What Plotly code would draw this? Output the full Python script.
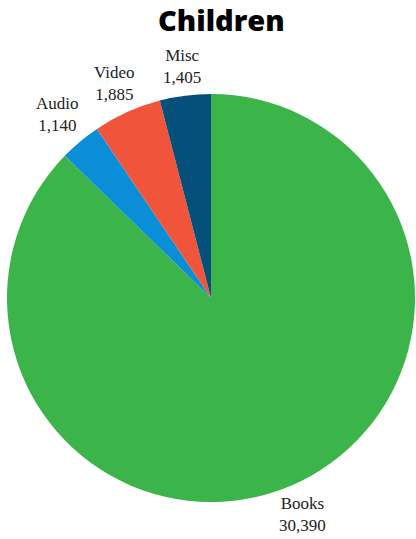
import math
import plotly.graph_objects as go

# Children's collection: items by format
categories = ["Books", "Audio", "Video", "Misc"]
counts = [30390, 1140, 1885, 1405]
colors = ["#3bb54a", "#0a8ed8", "#f0553b", "#05507b"]

W, H = 416, 539
# pie placement in pixels (center and radius)
cx, cy, R = 211, 298, 204

fig = go.Figure(
    go.Pie(
        labels=categories,
        values=counts,
        sort=False,
        direction="clockwise",
        rotation=0,
        marker=dict(colors=colors, line=dict(width=0)),
        textinfo="none",
        showlegend=False,
        hoverinfo="label+value",
        domain=dict(
            x=[(cx - R) / W, (cx + R) / W],
            y=[(H - cy - R) / H, (H - cy + R) / H],
        ),
    )
)

# Slice labels placed just outside the rim, along each slice's mid-angle
total = sum(counts)
start = 0.0
half_w, half_h, gap = 23, 19, 10
for name, val in zip(categories, counts):
    sweep = 360.0 * val / total
    mid = math.radians(start + sweep / 2)
    start += sweep
    s, c = math.sin(mid), math.cos(mid)
    edge = min(half_w / abs(s) if abs(s) > 1e-6 else 1e9,
               half_h / abs(c) if abs(c) > 1e-6 else 1e9)
    d = R + gap + edge
    px = cx + s * d
    py = cy - c * d
    fig.add_annotation(
        x=px / W,
        y=1 - py / H,
        xref="paper",
        yref="paper",
        text=f"{name}<br>{val:,}",
        showarrow=False,
        xanchor="center",
        yanchor="middle",
        align="center",
        font=dict(family="Liberation Serif", size=17, color="#222222"),
    )

fig.update_layout(
    width=W,
    height=H,
    margin=dict(l=0, r=0, t=0, b=0),
    paper_bgcolor="white",
    title=dict(
        text="Children",
        x=0.532,
        xanchor="center",
        y=0.962,
        yanchor="middle",
        font=dict(family="Open Sans", size=29, color="#000000", weight=800),
    ),
)

fig.write_html("out.html")
